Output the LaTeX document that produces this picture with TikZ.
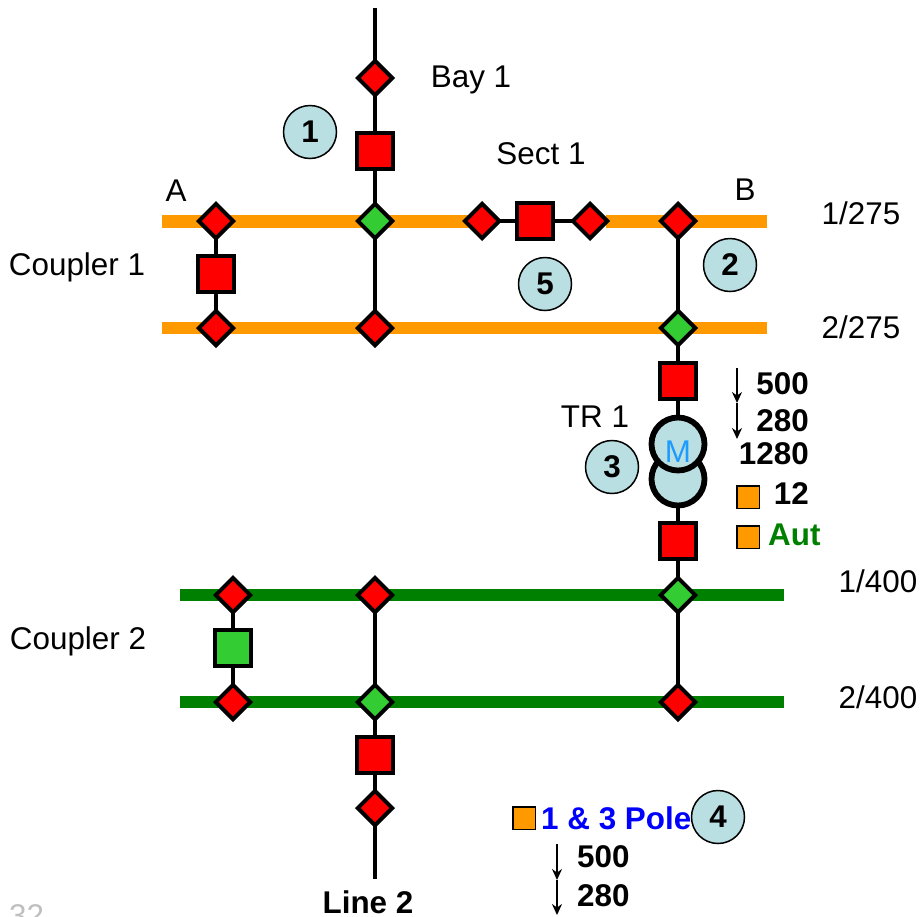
\documentclass[tikz,border=0pt]{standalone}
\usepackage{fontspec}
\setmainfont{Liberation Sans}
\usetikzlibrary{shapes.geometric,arrows.meta}
\definecolor{busorange}{HTML}{FF9900}
\definecolor{busgreen}{HTML}{008000}
\definecolor{sgreen}{HTML}{33CC33}
\definecolor{teal1}{HTML}{B9DFE3}
\definecolor{mblue}{HTML}{1E9BFF}
\tikzset{
 x=1pt,y=-1pt,
 txt/.style={inner sep=0pt,font=\fontsize{31.4}{31.4}\selectfont},
 btxt/.style={inner sep=0pt,font=\fontsize{31.4}{31.4}\selectfont\bfseries},
 dia/.style={diamond,draw=black,line width=4pt,minimum width=36pt,minimum height=36pt,inner sep=0pt,aspect=1,miter limit=2},
 red1/.style={dia,fill=red},
 grn1/.style={dia,fill=sgreen},
 brk/.style={rectangle,draw=black,line width=4pt,minimum size=36pt,inner sep=0pt},
 brkr/.style={brk,fill=red},
 brkg/.style={brk,fill=sgreen},
 tag/.style={circle,draw=black,line width=1.5pt,fill=teal1,minimum size=53pt,inner sep=0pt,font=\fontsize{31.4}{31.4}\selectfont\bfseries},
 wind/.style={circle,draw=black,line width=5.8pt,fill=teal1,minimum size=53pt,inner sep=0pt},
 osq/.style={rectangle,draw=black,line width=1.5pt,fill=busorange,minimum size=22.5pt,inner sep=0pt},
 wire/.style={line width=3.8pt,draw=black},
 busO/.style={line width=12.5pt,draw=busorange},
 busG/.style={line width=12.5pt,draw=busgreen},
 arr/.style={line width=1.6pt,draw=black,-{Stealth[length=11pt,width=10pt]}},
}
\begin{document}
\begin{tikzpicture}
\useasboundingbox (0,0) rectangle (920,916);
\clip (0,0) rectangle (920,916);
% free wire ends and bus ends
\coordinate (top) at (375,8);
\coordinate (bot) at (375,879);
\coordinate (o1l) at (162,221.5); \coordinate (o1a) at (470,221.5);
\coordinate (o1b) at (606,221.5); \coordinate (o1r) at (767,221.5);
\coordinate (o2l) at (162,328); \coordinate (o2r) at (767,328);
\coordinate (g1l) at (180,595); \coordinate (g1r) at (784,595);
\coordinate (g2l) at (180,702); \coordinate (g2r) at (784,702);
\coordinate (a1) at (737,368); \coordinate (a2) at (737,403); \coordinate (a3) at (737,439);
\coordinate (b1) at (557,844); \coordinate (b2) at (557,880); \coordinate (b3) at (557,915);
% buses
\draw[busO] (o1l) -- (o1a);
\draw[busO] (o1b) -- (o1r);
\draw[busO] (o2l) -- (o2r);
\draw[busG] (g1l) -- (g1r);
\draw[busG] (g2l) -- (g2r);
% anchors of the wires
\coordinate (c4) at (375,328);
\coordinate (c20) at (375,595);
\coordinate (c5) at (216,221);
\coordinate (c7) at (216,328);
\coordinate (c17) at (233,595);
\coordinate (c19) at (233,702);
\coordinate (c11) at (678,221);
\coordinate (c16) at (678,702);
\coordinate (c8) at (482,221);
\coordinate (c10) at (590,221);
% wires
\draw[wire] (top) -- (c4);
\draw[wire] (c20) -- (bot);
\draw[wire] (c5) -- (c7);
\draw[wire] (c17) -- (c19);
\draw[wire] (c11) -- (c16);
\draw[wire] (c8) -- (c10);
% diamonds and breakers
\node[red1] (n1) at (375,78) {};
\node[brkr] (n2) at (375,151) {};
\node[grn1] (n3) at (375,221) {};
\node[red1] (n4) at (c4) {};
\node[red1] (n5) at (c5) {};
\node[brkr] (n6) at (216,274) {};
\node[red1] (n7) at (c7) {};
\node[red1] (n8) at (c8) {};
\node[brkr] (n9) at (535,221) {};
\node[red1] (n10) at (c10) {};
\node[red1] (n11) at (c11) {};
\node[grn1] (n12) at (678,328) {};
\node[brkr] (n13) at (678,381) {};
\node[wind] (w2) at (678,479) {};
\node[wind] (w1) at (678,444) {};
\node[txt,text=mblue,anchor=base] (mt) at (678,462) {M};
\node[brkr] (n14) at (678,541) {};
\node[grn1] (n15) at (678,595) {};
\node[red1] (n16) at (c16) {};
\node[red1] (n17) at (c17) {};
\node[brkg] (n18) at (233,648) {};
\node[red1] (n19) at (c19) {};
\node[red1] (n20) at (c20) {};
\node[grn1] (n21) at (375,702) {};
\node[brkr] (n22) at (375,755) {};
\node[red1] (n23) at (375,808) {};
% numbered tags
\node[tag] (t1) at (310,132) {1};
\node[tag] (t2) at (730,265) {2};
\node[tag] (t3) at (612,467) {3};
\node[tag] (t5) at (545,284) {5};
% labels
\node[txt,anchor=base] (l1) at (471,87) {Bay 1};
\node[txt,anchor=base] (l2) at (541,164) {Sect 1};
\node[txt,anchor=base] (l3) at (176,201) {A};
\node[txt,anchor=base] (l4) at (745,200) {B};
\node[txt,anchor=base] (l5) at (861,224) {1/275};
\node[txt,anchor=base] (l6) at (861,338) {2/275};
\node[txt,anchor=base] (l7) at (77,275) {Coupler 1};
\node[txt,anchor=base] (l8) at (78,649) {Coupler 2};
\node[txt,anchor=base] (l9) at (595,427) {TR 1};
\node[txt,anchor=base] (l10) at (878,592) {1/400};
\node[txt,anchor=base] (l11) at (878,708) {2/400};
% ratings
\draw[arr] (a1) -- (a2);
\draw[arr] (a2) -- (a3);
\node[btxt,anchor=base east] (r1) at (809,394) {500};
\node[btxt,anchor=base east] (r2) at (809,431) {280};
\node[btxt,anchor=base east] (r3) at (809,464) {1280};
\node[osq] (s1) at (748,497) {};
\node[btxt,anchor=base east] (r4) at (809,504) {12};
\node[osq] (s2) at (748,537) {};
\node[btxt,anchor=base west,text=busgreen] (r5) at (768,545) {Aut};
% bottom
\node[osq] (s3) at (524,818) {};
\node[btxt,anchor=base west,text=blue] (p1) at (541,829) {1 \& 3 Pole};
\node[tag] (t4) at (718,817) {4};
\draw[arr] (b1) -- (b2);
\draw[arr] (b2) -- (b3);
\node[btxt,anchor=base west] (r6) at (577,867) {500};
\node[btxt,anchor=base west] (r7) at (577,906) {280};
\node[btxt,anchor=base] (ln) at (368,913) {Line 2};
\node[txt,anchor=base west,text=black!25] (pg) at (9,926) {32};
\end{tikzpicture}
\end{document}
